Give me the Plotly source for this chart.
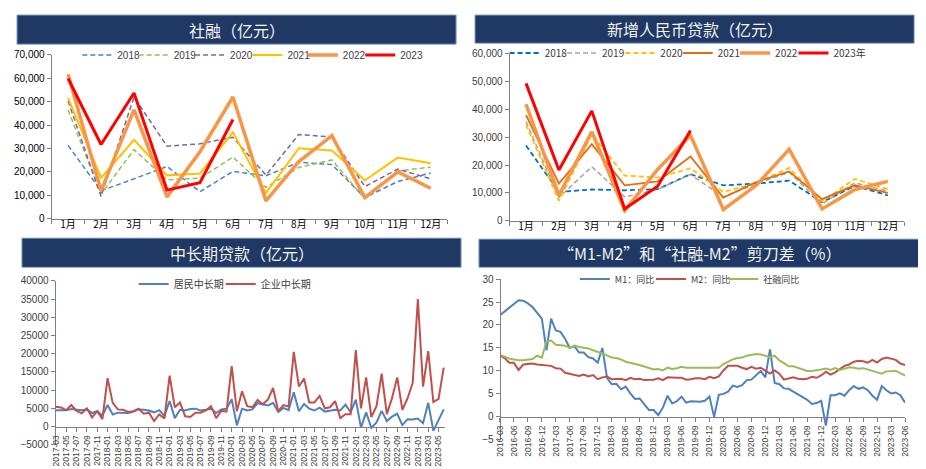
import plotly.graph_objects as go
import pandas as pd

W, H = 926, 469
def px(x): return x / W
def py(y): return 1 - y / H

months12 = ["1月", "2月", "3月", "4月", "5月", "6月", "7月", "8月", "9月", "10月", "11月", "12月"]

# Panel 1: 社融 (亿元)
sf_2018 = [31300, 11900, 17000, 22300, 11500, 20200, 18300, 24100, 23100, 9000, 15900, 19500]
sf_2019 = [46500, 10500, 29500, 16600, 17300, 26300, 13300, 21900, 25100, 8500, 20400, 22000]
sf_2020 = [50300, 9500, 52000, 31000, 32000, 34800, 18600, 36000, 34900, 13700, 21200, 17000]
sf_2021 = [51600, 17400, 33700, 18500, 19300, 36900, 10900, 30100, 29100, 16400, 26100, 23700]
sf_2022 = [61700, 11900, 46500, 9300, 28600, 52000, 7600, 24400, 35500, 9000, 20000, 13000]
sf_2023 = [59900, 31700, 53700, 12200, 15400, 42400]

# Panel 2: 新增人民币贷款 (亿元)
ln_2018 = [27000, 10300, 11200, 10900, 11300, 16700, 12700, 13300, 14400, 6600, 12500, 9100]
ln_2019 = [35700, 8300, 19400, 8500, 11200, 16600, 8500, 13200, 17400, 6000, 13600, 10600]
ln_2020 = [34600, 7100, 31000, 16200, 15500, 18800, 10300, 13500, 19000, 6900, 15000, 11300]
ln_2021 = [38000, 13300, 27500, 12700, 14100, 23100, 8300, 13900, 17700, 7700, 12700, 10000]
ln_2022 = [41900, 9100, 32000, 3600, 18400, 30700, 4000, 12700, 25700, 4200, 11200, 14100]
ln_2023 = [49400, 18200, 39500, 4200, 12400, 32400]

# Panel 3: 中长期贷款 (亿元), 2017-03 .. 2023-06
months3 = pd.date_range("2017-03-01", "2023-06-01", freq="MS").strftime("%Y-%m").tolist()
household_ml = [4500, 4500, 4500, 4800, 4700, 4500, 4700, 3700, 4200, 3000,
                5900, 3300, 3800, 3800, 3700, 4100, 4700, 4600, 4400, 3900, 4500, 2900,
                7000, 2300, 4600, 4400, 4800, 4900, 4400, 4600, 4900, 3700, 4700, 4900,
                7500, 300, 4900, 4400, 4700, 6400, 6000, 5800, 6500, 4000, 5100, 4500,
                9400, 4200, 6200, 4900, 4400, 5200, 4100, 4300, 4600, 4400, 6000, 3900,
                7400, -300, 3900, -400, 1100, 4300, 1500, 2700, 3500, 400, 2000, 1900,
                2200, 900, 6500, -1200, 1800, 4700]
corporate_ml = [5400, 5200, 4500, 5900, 4300, 3600, 5000, 2500, 4200, 2000,
                13300, 6500, 4700, 4600, 4000, 4200, 4900, 3500, 3800, 1500, 3300, 2200,
                14000, 5300, 6600, 2800, 2600, 3800, 3800, 4400, 5600, 2300, 4300, 4100,
                16600, 4200, 9700, 5600, 5300, 7300, 6100, 7400, 10600, 4200, 5900, 5500,
                20500, 11000, 13200, 6600, 6600, 8400, 5000, 5300, 7000, 2300, 3400, 3400,
                21000, 5000, 13500, 2600, 5600, 14500, 3400, 7800, 13500, 4600, 7700, 12000,
                35000, 11000, 20700, 6700, 7600, 16200]

# Panel 4: M1 / M2 / 社融 同比 (%), 2016-03 .. 2023-06
months4 = pd.date_range("2016-03-01", "2023-06-01", freq="MS").strftime("%Y-%m").tolist()
m1_yoy = [22.1, 22.9, 23.7, 24.6, 25.4, 25.3, 24.7, 23.9, 22.7, 21.4,
          14.5, 21.4, 18.8, 18.5, 17.0, 15.0, 15.4, 14.0, 14.0, 13.0, 12.7, 11.8,
          15.0, 8.5, 7.1, 7.2, 6.0, 6.6, 5.1, 3.9, 4.0, 2.7, 1.5, 1.5,
          0.4, 2.0, 4.6, 2.9, 3.4, 4.4, 3.1, 3.4, 3.4, 3.3, 3.5, 4.4,
          0.0, 4.8, 5.0, 5.5, 6.8, 6.5, 6.9, 8.0, 8.1, 9.1, 10.0, 8.6,
          14.7, 7.4, 7.1, 6.2, 6.1, 5.5, 4.9, 4.2, 3.7, 2.8, 3.0, 3.5,
          -1.9, 4.7, 4.7, 5.1, 4.6, 5.8, 6.7, 6.1, 6.4, 5.8, 4.6, 3.7,
          6.7, 5.8, 5.1, 5.3, 4.7, 3.1]
m2_yoy = [13.4, 12.8, 11.8, 11.8, 10.2, 11.4, 11.5, 11.6, 11.4, 11.3,
          11.3, 11.1, 10.6, 10.5, 9.6, 9.4, 9.2, 8.9, 9.2, 8.8, 9.1, 8.2,
          8.6, 8.8, 8.2, 8.3, 8.3, 8.0, 8.5, 8.2, 8.3, 8.0, 8.0, 8.1,
          8.4, 8.0, 8.6, 8.5, 8.5, 8.5, 8.1, 8.2, 8.4, 8.4, 8.2, 8.7,
          8.4, 8.8, 10.1, 11.1, 11.1, 11.1, 10.7, 10.4, 10.9, 10.5, 10.7, 10.1,
          9.4, 10.1, 9.4, 8.1, 8.3, 8.6, 8.3, 8.2, 8.3, 8.7, 8.5, 9.0,
          9.8, 9.2, 9.7, 10.5, 11.1, 11.4, 12.0, 12.2, 12.1, 11.8, 12.4, 11.8,
          12.6, 12.9, 12.7, 12.4, 11.6, 11.3]
tsf_yoy = [13.5, 13.1, 12.7, 12.5, 12.3, 12.3, 12.5, 12.6, 13.3, 12.9,
           16.4, 16.6, 15.7, 15.6, 15.5, 15.0, 15.5, 15.2, 15.0, 14.9, 14.5, 14.2,
           13.8, 13.4, 12.9, 12.8, 12.5, 12.0, 11.7, 11.5, 11.3, 11.0, 10.6, 10.3,
           10.4, 10.1, 10.7, 10.4, 10.6, 10.9, 10.7, 10.7, 10.8, 10.7, 10.7, 10.7,
           10.7, 10.7, 11.5, 12.0, 12.5, 12.8, 12.9, 13.3, 13.5, 13.7, 13.6, 13.3,
           13.0, 13.3, 12.3, 11.7, 11.0, 11.0, 10.7, 10.3, 10.0, 10.0, 10.1, 10.3,
           10.5, 10.2, 10.6, 10.2, 10.5, 10.8, 10.7, 10.5, 10.6, 10.3, 10.0, 9.6,
           9.4, 9.9, 10.0, 10.0, 9.5, 9.0]

FONT = "Liberation Sans"
CJK = "Noto Sans CJK SC"
fig = go.Figure()
layout_legends = {}
leg_count = [0]

def add(x, y, name, color, width, dash, xa, ya, text_x, text_y, font_family, fsize=10):
    leg_count[0] += 1
    key = "legend" if leg_count[0] == 1 else f"legend{leg_count[0]}"
    fig.add_trace(go.Scatter(x=x, y=y, name=name, mode="lines",
                             line=dict(color=color, width=width, dash=dash),
                             xaxis=xa, yaxis=ya, legend=key))
    off = 52 if font_family == FONT else 46
    layout_legends[key] = dict(x=px(text_x - off), y=py(text_y), xanchor="left", yanchor="middle",
                               orientation="h", bgcolor="rgba(0,0,0,0)", itemwidth=30,
                               font=dict(family=font_family, size=fsize, color="#404040"))

DASH = "5px,3px"
# Panel 1
p1 = [("2018", sf_2018, "#4F81BD", 1.5, DASH, 117),
      ("2019", sf_2019, "#9BBB59", 1.5, DASH, 174),
      ("2020", sf_2020, "#8064A2", 1.5, DASH, 231),
      ("2021", sf_2021, "#FFC000", 2, "solid", 289),
      ("2022", sf_2022, "#F79646", 3.5, "solid", 345),
      ("2023", sf_2023, "#FF0000", 3, "solid", 403)]
for nm, ys, c, w, d, tx in p1:
    add(months12[:len(ys)], ys, nm, c, w, d, "x", "y", tx, 42, FONT)

# Panel 2
p2 = [("2018", ln_2018, "#0070C0", 1.8, DASH, 543),
      ("2019", ln_2019, "#A5A5A5", 1.5, DASH, 601),
      ("2020", ln_2020, "#FFC000", 1.8, DASH, 660),
      ("2021", ln_2021, "#E46C0A", 1.8, "solid", 718),
      ("2022", ln_2022, "#F79646", 3.5, "solid", 776),
      ("2023年", ln_2023, "#FF0000", 3, "solid", 835)]
for nm, ys, c, w, d, tx in p2:
    add(months12[:len(ys)], ys, nm, c, w, d, "x2", "y2", tx, 40, CJK)

# Panel 3
add(months3, household_ml, "居民中长期", "#4F81BD", 2, "solid", "x3", "y3", 168, 277, CJK)
add(months3, corporate_ml, "企业中长期", "#C0504D", 2, "solid", "x3", "y3", 256, 277, CJK)

# Panel 4
add(months4, m1_yoy, "M1：同比", "#4F81BD", 2, "solid", "x4", "y4", 614, 272, CJK, 9)
add(months4, m2_yoy, "M2：同比", "#C0504D", 2, "solid", "x4", "y4", 691, 272, CJK, 9)
add(months4, tsf_yoy, "社融同比", "#9BBB59", 2, "solid", "x4", "y4", 764, 272, CJK, 9)

tickfont = dict(family=FONT, size=10, color="#404040")
axline = dict(showline=True, linecolor="#7F7F7F", linewidth=1, showgrid=False, zeroline=False,
              ticks="outside", ticklen=4, tickcolor="#7F7F7F")

layout = dict(
    width=W, height=H, margin=dict(l=0, r=0, t=0, b=0),
    paper_bgcolor="white", plot_bgcolor="white",
    font=dict(family=FONT, size=10, color="#404040"),
    xaxis=dict(domain=[px(39), px(439)], anchor="y", type="category", range=[-0.5, 11.5],
               tickson="boundaries", ticklabelstandoff=-4,
               tickfont=dict(family=CJK, size=10, color="#000"), **axline),
    yaxis=dict(domain=[py(210), py(42)], anchor="x", range=[0, 70000], dtick=10000,
               tickformat=",", tickfont=dict(family=FONT, size=10, color="#000"), **axline),
    xaxis2=dict(domain=[px(502), px(901)], anchor="y2", type="category", range=[-0.5, 11.5],
                tickson="boundaries", ticklabelstandoff=-4,
                tickfont=dict(family=CJK, size=10, color="#000"), **axline),
    yaxis2=dict(domain=[py(212), py(41)], anchor="x2", range=[0, 60000], dtick=10000,
                tickformat=",", tickfont=dict(family=FONT, size=10, color="#404040"), **axline),
    xaxis3=dict(domain=[px(42), px(437)], anchor="free", position=py(423.7), type="category",
                range=[-0.25, 75.3], tickvals=months3[::2], tickangle=-90,
                tickfont=dict(family=FONT, size=8.5, color="#404040"), **axline),
    yaxis3=dict(domain=[py(442), py(274)], anchor="free", position=px(42), range=[-5000, 40000], dtick=5000,
                tickformat="d", tickfont=tickfont, **axline),
    xaxis4=dict(domain=[px(492), px(902)], anchor="free", position=py(413.7), type="category",
                range=[-0.05, 87.05], tickvals=months4[::3], tickangle=-90,
                tickfont=dict(family=FONT, size=8.5, color="#404040"), **axline),
    yaxis4=dict(domain=[py(437), py(272)], anchor="free", position=px(492), range=[-5, 30], dtick=5,
                tickfont=tickfont, **axline),
    showlegend=True,
)
layout.update(layout_legends)
fig.update_layout(**layout)

# Title bars
bars = [((4, 1, 448, 31), "社融（亿元）"),
        ((467, 1, 911, 30), "新增人民币贷款（亿元）"),
        ((9, 230, 453, 260), "中长期贷款（亿元）"),
        ((471, 231, 916, 260), "“M1-M2”和“社融-M2”剪刀差（%）")]
for (x0, y0, x1, y1), t in bars:
    fig.add_shape(type="rect", xref="paper", yref="paper", x0=px(x0), x1=px(x1), y0=py(y1), y1=py(y0),
                  fillcolor="#1F3864", line=dict(color="#8EA9DB", width=1), layer="below")
    fig.add_annotation(xref="paper", yref="paper", x=px((x0 + x1) / 2), y=py((y0 + y1) / 2),
                       text=t, showarrow=False, xanchor="center", yanchor="middle",
                       font=dict(family=CJK, size=16, color="#F2F2F2"))

fig.write_html("out.html")
